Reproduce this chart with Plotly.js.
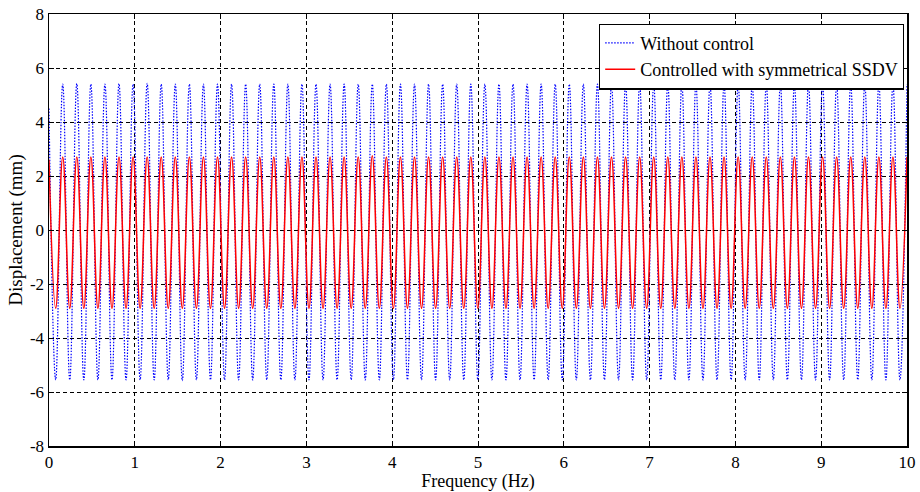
<!DOCTYPE html>
<html>
<head>
<meta charset="utf-8">
<script src="https://cdn.plot.ly/plotly-3.0.1.min.js"></script>
<style>html,body{margin:0;padding:0;background:#fff;}#chart{width:920px;height:492px;}</style>
</head>
<body>
<div id="chart"></div>
<script>
// Frequency positions of the start point and of each successive trough / peak
var freqExtrema = [0,
0.078,0.160,0.242,0.324,0.406,0.488,0.570,0.652,0.734,0.816,
0.898,0.980,1.062,1.144,1.226,1.308,1.390,1.472,1.554,1.636,
1.718,1.800,1.882,1.964,2.046,2.128,2.210,2.292,2.374,2.456,
2.538,2.620,2.702,2.784,2.866,2.948,3.030,3.112,3.194,3.276,
3.358,3.440,3.522,3.604,3.686,3.768,3.850,3.932,4.014,4.096,
4.178,4.260,4.342,4.424,4.506,4.588,4.670,4.752,4.834,4.916,
4.998,5.080,5.162,5.244,5.326,5.408,5.490,5.572,5.654,5.736,
5.818,5.900,5.982,6.064,6.146,6.228,6.310,6.392,6.474,6.556,
6.638,6.720,6.802,6.884,6.966,7.048,7.130,7.212,7.294,7.376,
7.458,7.540,7.622,7.704,7.786,7.868,7.950,8.032,8.114,8.196,
8.278,8.360,8.442,8.524,8.606,8.688,8.770,8.852,8.934,9.016,
9.098,9.180,9.262,9.344,9.426,9.508,9.590,9.672,9.754,9.836,
9.918,10.000];

// Displacement without control (mm)
var withoutControl = [4.5,
-5.55,5.40,-5.55,5.42,-5.55,5.40,-5.55,5.40,-5.55,5.42,
-5.55,5.40,-5.55,5.43,-5.55,5.40,-5.55,5.40,-5.58,5.40,
-5.55,5.40,-5.55,5.40,-5.55,5.40,-5.55,5.40,-5.55,5.40,
-5.55,5.40,-5.55,5.40,-5.55,5.40,-5.55,5.40,-5.55,5.40,
-5.55,5.40,-5.55,5.40,-5.55,5.40,-5.55,5.40,-5.55,5.40,
-5.55,5.40,-5.55,5.40,-5.55,5.40,-5.55,5.40,-5.55,5.40,
-5.55,5.40,-5.55,5.40,-5.55,5.40,-5.55,5.40,-5.55,5.40,
-5.55,5.40,-5.55,5.40,-5.55,5.40,-5.55,5.40,-5.55,5.40,
-5.55,5.40,-5.55,5.40,-5.55,5.40,-5.55,5.40,-5.55,5.40,
-5.55,5.40,-5.55,5.40,-5.55,5.40,-5.55,5.40,-5.55,5.40,
-5.55,5.40,-5.55,5.40,-5.55,5.40,-5.55,5.40,-5.55,5.40,
-5.55,5.40,-5.55,5.40,-5.55,5.40,-5.55,5.40,-5.55,5.40,
-5.55,5.40];

// Displacement controlled with symmetrical SSDV (mm)
var controlledSSDV = [2.6,
-2.90,2.70,-2.90,2.70,-2.90,2.70,-2.90,2.70,-2.90,2.70,
-2.90,2.70,-2.90,2.70,-2.90,2.70,-2.90,2.70,-2.90,2.70,
-2.90,2.70,-2.90,2.70,-2.90,2.70,-2.90,2.70,-2.90,2.70,
-2.90,2.70,-2.90,2.70,-2.90,2.70,-2.90,2.70,-2.90,2.70,
-2.90,2.70,-2.90,2.70,-2.90,2.75,-2.90,2.70,-2.90,2.70,
-2.90,2.70,-2.90,2.70,-2.90,2.70,-2.90,2.70,-2.90,2.70,
-2.90,2.70,-2.90,2.70,-2.90,2.70,-2.90,2.70,-2.90,2.70,
-2.90,2.70,-2.90,2.70,-2.90,2.70,-2.90,2.70,-2.90,2.70,
-2.90,2.70,-2.90,2.70,-2.90,2.70,-2.90,2.70,-2.90,2.70,
-2.90,2.70,-2.90,2.70,-2.90,2.70,-2.90,2.70,-2.90,2.70,
-2.90,2.70,-2.90,2.70,-2.90,2.70,-2.90,2.70,-2.90,2.70,
-2.90,2.70,-2.90,2.70,-2.90,2.70,-2.90,2.70,-2.90,2.70,
-2.90,2.70];

var seriesNames = ["Without control", "Controlled with symmetrical SSDV"];
var xTicks = [0,1,2,3,4,5,6,7,8,9,10];
var yTicks = [-8,-6,-4,-2,0,2,4,6,8];

var FONT = '"Liberation Serif", "Times New Roman", serif';

var traces = [
  {x: freqExtrema, y: withoutControl, name: seriesNames[0], type: "scatter", mode: "lines",
   line: {color: "#0000ff", width: 1.2, dash: "1.5px,1.5px", shape: "spline", smoothing: 1.2}},
  {x: freqExtrema, y: controlledSSDV, name: seriesNames[1], type: "scatter", mode: "lines",
   line: {color: "#ff0000", width: 1.5, shape: "spline", smoothing: 1.2}}
];

var axisCommon = {
  showline: true, linecolor: "#000", linewidth: 1.5, mirror: "ticks",
  ticks: "inside", ticklen: 5, tickwidth: 1, tickcolor: "#000",
  showgrid: true, gridcolor: "#000", gridwidth: 1, griddash: "4px,3px",
  zeroline: false, tickfont: {family: FONT, size: 17, color: "#000"}
};

var layout = {
  width: 920, height: 492,
  margin: {l: 49, r: 13, t: 14, b: 46},
  paper_bgcolor: "#fff", plot_bgcolor: "#fff",
  font: {family: FONT, color: "#000"},
  showlegend: true,
  legend: {x: 0.9965, xanchor: "right", y: 0.978, yanchor: "top",
    bgcolor: "#fff", bordercolor: "#000", borderwidth: 1.2,
    font: {family: FONT, size: 18, color: "#000"}, tracegroupgap: 0, itemwidth: 30},
  xaxis: Object.assign({}, axisCommon, {
    range: [0, 10], tickvals: xTicks, ticktext: xTicks.map(String),
    title: {text: "Frequency (Hz)", font: {family: FONT, size: 18, color: "#000"}, standoff: 0}
  }),
  yaxis: Object.assign({}, axisCommon, {
    range: [-8, 8], tickvals: yTicks, ticktext: yTicks.map(String),
    title: {text: "Displacement (mm)", font: {family: FONT, size: 19, color: "#000"}, standoff: 2}
  })
};

Plotly.newPlot("chart", traces, layout, {displayModeBar: false, staticPlot: true});
</script>
</body>
</html>
